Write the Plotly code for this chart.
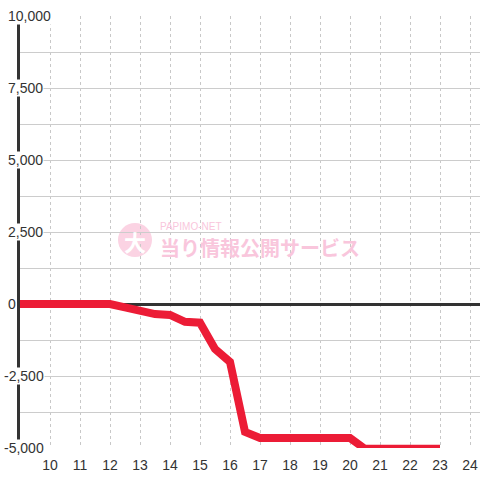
import plotly.graph_objects as go

# Data (hour of day -> cumulative difference)
hours = [9, 10, 11, 12, 12.5, 13, 13.5, 14, 14.5, 15, 15.5, 16, 16.5, 17,
         17.5, 18, 18.5, 19, 19.5, 20, 20.5, 21, 21.5, 22, 22.5, 23]
values = [0, 0, 0, 0, -120, -250, -350, -380, -620, -650, -1560, -2010, -4440, -4650,
          -4650, -4650, -4650, -4650, -4650, -4650, -5030, -5030, -5030, -5030, -5030, -5030]

x_ticks = list(range(10, 25))
y_ticks = [-5000, -2500, 0, 2500, 5000, 7500, 10000]
y_labels = [f"{v:,}" for v in y_ticks]

W, H = 480, 480
ML, MR, MT, MB = 20, 0, 16, 32
PW, PH = W - ML - MR, H - MT - MB

def px(xp):
    return (xp - ML) / PW

def py(yp):
    return (H - MB - yp) / PH

fig = go.Figure()
fig.add_trace(go.Scatter(
    x=hours, y=values, mode="lines",
    line=dict(color="#ec1c36", width=8),
    hoverinfo="skip", showlegend=False,
))

annotations = []
for v, lab in zip(y_ticks, y_labels):
    annotations.append(dict(
        x=px(7 if v >= 0 else 3), xref="paper", y=v, yref="y",
        text=lab, showarrow=False, xanchor="left", yanchor="middle",
        font=dict(family="Liberation Sans, Arial", size=14, color="#333333"),
        bgcolor="white", borderpad=0,
    ))

# watermark
annotations.append(dict(
    x=px(260), y=py(247), xref="paper", yref="paper", text="<b>当り情報公開サービス</b>",
    showarrow=False, xanchor="center", yanchor="middle",
    font=dict(family="Noto Sans CJK JP", size=20, color="#f9c6dc"),
))
annotations.append(dict(
    x=px(190), y=py(226), xref="paper", yref="paper", text="PAPIMO-NET",
    showarrow=False, xanchor="center", yanchor="middle",
    font=dict(family="Liberation Sans", size=10, color="#f9c6dc"),
))
annotations.append(dict(
    x=px(135), y=py(241), xref="paper", yref="paper", text="<b>大</b>",
    showarrow=False, xanchor="center", yanchor="middle",
    font=dict(family="Noto Sans CJK JP", size=22, color="white"),
))

shapes = [dict(
    type="circle", xref="paper", yref="paper",
    x0=px(118), x1=px(152), y0=py(257), y1=py(223),
    fillcolor="#fbd3e3", line=dict(width=0), layer="below",
)]

fig.update_layout(
    width=W, height=H,
    margin=dict(l=ML, r=MR, t=MT, b=MB, autoexpand=False),
    paper_bgcolor="white", plot_bgcolor="white",
    showlegend=False,
    annotations=annotations,
    shapes=shapes,
    xaxis=dict(
        range=[9, 9 + PW / 30], tickmode="array", tickvals=x_ticks,
        ticktext=[str(t) for t in x_ticks], automargin=False,
        showgrid=True, gridcolor="#c8c8c8", gridwidth=1, griddash="3px,3px",
        zeroline=False, showline=False,
        ticks="outside", ticklen=4, tickcolor="rgba(0,0,0,0)",
        tickfont=dict(family="Liberation Sans, Arial", size=14, color="#333333"),
    ),
    yaxis=dict(
        range=[-5000, 10000], tickmode="linear", tick0=0, dtick=1250,
        showticklabels=False, ticks="", automargin=False,
        showgrid=True, gridcolor="#cccccc", gridwidth=1,
        zeroline=True, zerolinecolor="#333333", zerolinewidth=3,
        showline=True, linecolor="#333333", linewidth=3,
    ),
)

fig.write_html(
    "out.html",
    config={"displayModeBar": False, "staticPlot": True},
    post_script="document.body.style.margin='0px';document.body.style.overflow='hidden';",
)
